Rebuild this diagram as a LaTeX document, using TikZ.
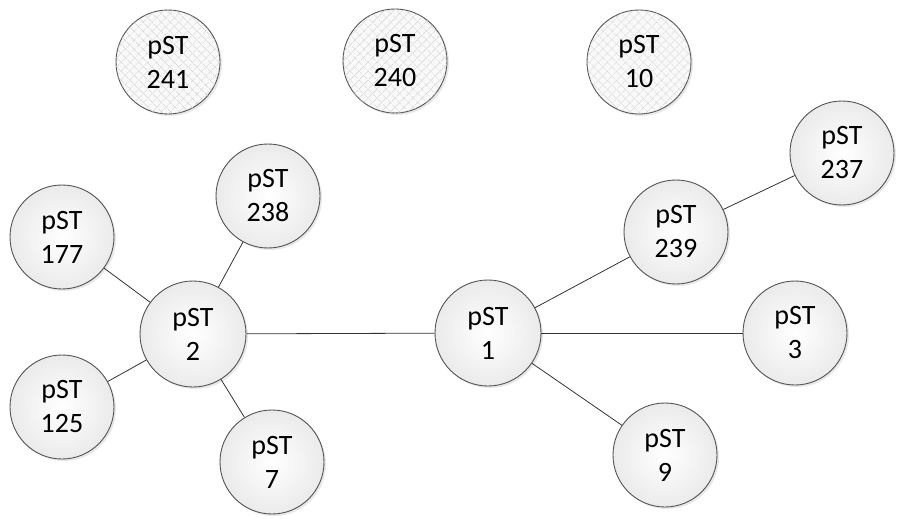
\documentclass[tikz,border=0pt]{standalone}
\usepackage{fontspec}
\setmainfont{Carlito}
\usetikzlibrary{shadows,patterns.meta}
\tikzset{
  pnode/.style={circle, draw=gray!65!black, line width=0.9pt,
    inner color=white, outer color=gray!16, align=center,
    font=\fontsize{28}{34}\selectfont, inner sep=0pt, minimum size=104pt,
    drop shadow={opacity=0.18, shadow xshift=2pt, shadow yshift=-2pt}},
  isonode/.style={circle, draw=gray!65!black, line width=0.9pt, align=center,
    fill=gray!5, inner sep=0pt, minimum size=104pt,
    font=\fontsize{28}{34}\selectfont,
    postaction={pattern={Lines[angle=45,distance=6.5pt,line width=0.6pt]}, pattern color=gray!40},
    postaction={pattern={Lines[angle=-45,distance=6.5pt,line width=0.6pt]}, pattern color=gray!40},
    drop shadow={opacity=0.18, shadow xshift=2pt, shadow yshift=-2pt}},
  link/.style={draw=black!80, line width=0.8pt}
}
\begin{document}
\begin{tikzpicture}[x=1pt,y=-1pt]
\useasboundingbox (0,0) rectangle (898,519);
% isolated profiles
\node[isonode] (n241) at (168,62) {pST\\241};
\node[isonode] (n240) at (395,61) {pST\\240};
\node[isonode] (n10) at (639,62) {pST\\10};
% connected profiles
\node[pnode] (n238) at (268,196) {pST\\238};
\node[pnode] (n177) at (62,237) {pST\\177};
\node[pnode, minimum size=106pt] (n2) at (193,334) {pST\\2};
\node[pnode] (n125) at (62,407) {pST\\125};
\node[pnode] (n7) at (272,462) {pST\\7};
\node[pnode, minimum size=106pt] (n1) at (488,333) {pST\\1};
\node[pnode] (n239) at (676,232) {pST\\239};
\node[pnode] (n237) at (842,153) {pST\\237};
\node[pnode] (n3) at (795,333) {pST\\3};
\node[pnode] (n9) at (665,455) {pST\\9};
% links
\draw[link] (n177) -- (n2);
\draw[link] (n238) -- (n2);
\draw[link] (n125) -- (n2);
\draw[link] (n7) -- (n2);
\draw[link] (n2) -- (n1);
\draw[link] (n1) -- (n239);
\draw[link] (n239) -- (n237);
\draw[link] (n1) -- (n3);
\draw[link] (n1) -- (n9);
\end{tikzpicture}
\end{document}
